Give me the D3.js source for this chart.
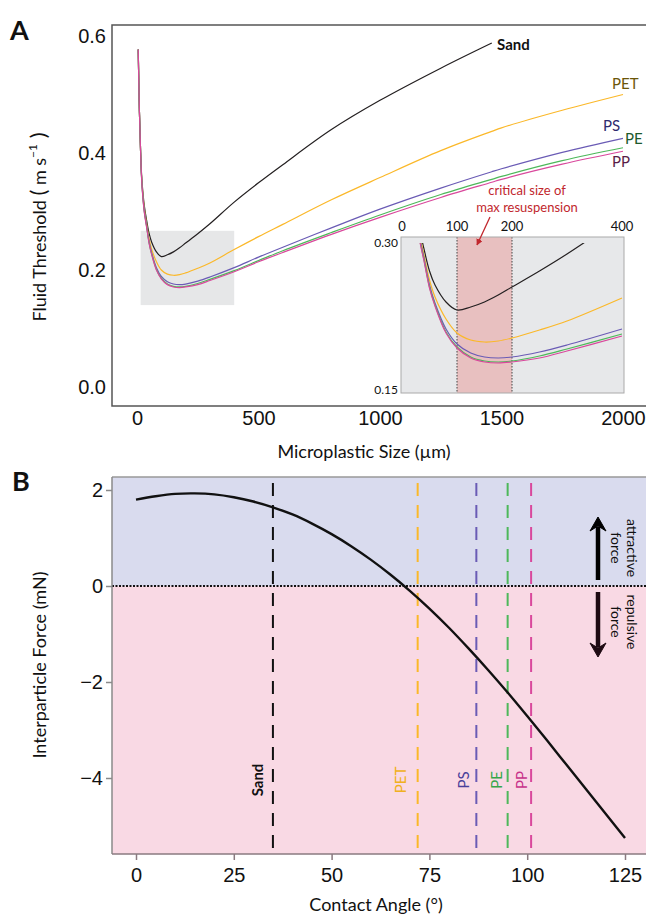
<!DOCTYPE html>
<html><head><meta charset="utf-8">
<script src="https://cdn.jsdelivr.net/npm/d3@7"></script>
<style>body{margin:0;background:#fff}svg{display:block;font-family:Lato,"Open Sans",sans-serif}</style>
</head><body>
<svg id="c" width="646" height="915"></svg>
<script>
// ---------- Panel A data ----------
const sizes = [5,10,15,20,30,40,50,60,80,100,125,150,175,200,250,300,400,500,600,800,1000,1250,1460,1500,1750,2000];
const sandA = [0.577,0.47,0.40,0.355,0.31,0.284,0.262,0.248,0.231,0.223,0.226,0.231,0.238,0.246,0.262,0.279,0.316,0.349,0.38,0.44,0.49,0.545,0.588,null,null,null];
const petA  = [0.577,0.47,0.40,0.352,0.305,0.278,0.253,0.236,0.214,0.200,0.193,0.191,0.192,0.195,0.203,0.212,0.235,0.257,0.278,0.320,0.358,0.404,0.437,0.443,0.473,0.50];
const psA   = [0.577,0.47,0.40,0.350,0.302,0.275,0.248,0.230,0.204,0.189,0.180,0.176,0.175,0.176,0.181,0.188,0.204,0.222,0.239,0.272,0.304,0.340,0.368,0.373,0.401,0.425];
const peA   = [0.577,0.47,0.40,0.349,0.300,0.273,0.246,0.228,0.201,0.186,0.176,0.172,0.171,0.172,0.177,0.184,0.199,0.216,0.233,0.264,0.294,0.329,0.355,0.360,0.387,0.409];
const ppA   = [0.577,0.47,0.40,0.348,0.299,0.272,0.245,0.227,0.200,0.185,0.175,0.171,0.170,0.171,0.175,0.182,0.197,0.214,0.230,0.261,0.290,0.324,0.350,0.355,0.381,0.403];
const seriesNames = ["Sand","PET","PS","PE","PP"];
const xTicksA = [0,500,1000,1500,2000];
const yTicksA = [0,0.2,0.4,0.6];
const zoomBoxSize = [15,400];
const zoomBoxValue = [0.14,0.267];
const insetXTicks = [0,100,200,400];
const insetYLabels = ["0.30","0.15"];
const criticalRange = [100,200];
const insetMaxValue = 0.29;

// ---------- Panel B data ----------
const angles = [0,5,10,15,20,25,30,35,40,45,50,55,60,65,70,75,80,85,90,95,100,105,110,115,120,125];
const force  = [1.80,1.87,1.92,1.93,1.91,1.85,1.76,1.64,1.49,1.30,1.08,0.83,0.55,0.24,-0.10,-0.47,-0.87,-1.30,-1.75,-2.22,-2.71,-3.21,-3.72,-4.23,-4.74,-5.25];
const materialAngles = [35,72,87,95,101];
const xTicksB = [0,25,50,75,100,125];
const yTicksB = [-4,-2,0,2];

const lineCol = {Sand:"#231f20",PET:"#fbb829",PS:"#6a5bb5",PE:"#4db85a",PP:"#d9489c"};
const labACol = {Sand:"#111",PET:"#6b5608",PS:"#2d2a6e",PE:"#1d5a2c",PP:"#5a1c48"};
const labBCol = {Sand:"#111",PET:"#f0b020",PS:"#4a3f9a",PE:"#35a648",PP:"#c8338a"};

const svg = d3.select("#c");
const seriesA = [sandA,petA,psA,peA,ppA];
const smooth = d3.curveCatmullRom.alpha(0.5);

// ===== Panel A =====
const xA = d3.scaleLinear().domain([0,2000]).range([137,623]);
const yA = d3.scaleLinear().domain([0,0.6]).range([387,36]);
const A = {l:112,r:646,t:25,b:406};

svg.append("rect").attr("x",xA(zoomBoxSize[0])).attr("y",yA(zoomBoxValue[1]))
  .attr("width",xA(zoomBoxSize[1])-xA(zoomBoxSize[0])).attr("height",yA(zoomBoxValue[0])-yA(zoomBoxValue[1]))
  .attr("fill","#e6e7e8");

const lineA = d3.line().defined(d=>d[1]!=null).x(d=>xA(d[0])).y(d=>yA(d[1])).curve(smooth);
seriesA.forEach((s,i)=>{
  svg.append("path").datum(sizes.map((x,j)=>[x,s[j]])).attr("d",lineA)
    .attr("fill","none").attr("stroke",lineCol[seriesNames[i]]).attr("stroke-width",1.2);
});

// frame
svg.append("path").attr("d",`M${A.r},${A.t}H${A.l}V${A.b}H${A.r}`).attr("fill","none").attr("stroke","#555").attr("stroke-width",1.5);

const axA = svg.append("g").attr("transform",`translate(${A.l},0)`)
  .call(d3.axisLeft(yA).tickValues(yTicksA).tickFormat(d3.format(".1f")).tickSize(0).tickPadding(6));
axA.select(".domain").remove();
axA.selectAll("text").attr("font-size",20).attr("fill","#111");
const axAx = svg.append("g").attr("transform",`translate(0,${A.b})`)
  .call(d3.axisBottom(xA).tickValues(xTicksA).tickFormat(d3.format("d")).tickSize(0).tickPadding(5));
axAx.select(".domain").remove();
axAx.selectAll("text").attr("font-size",20).attr("fill","#111");

svg.append("text").attr("x",364).attr("y",458).attr("text-anchor","middle").attr("font-size",18).attr("fill","#111").text("Microplastic Size (µm)");
const yt = svg.append("text").attr("transform","translate(46,227) rotate(-90)").attr("text-anchor","middle").attr("font-size",18).attr("fill","#111");
yt.append("tspan").text("Fluid Threshold ");
yt.append("tspan").attr("font-size",22).text("(");
yt.append("tspan").text(" m s");
yt.append("tspan").attr("font-size",12).attr("dy",-9).text("−1");
yt.append("tspan").attr("font-size",22).attr("dy",9).text(" )");

svg.append("text").attr("x",10).attr("y",40).attr("font-size",27).attr("font-weight","bold").attr("fill","#111").text("A");

// end labels
const labPos = {Sand:[497,50],PET:[612,89],PS:[603,131],PE:[625,144],PP:[612,167]};
seriesNames.forEach(n=>{
  svg.append("text").attr("x",labPos[n][0]).attr("y",labPos[n][1]).attr("font-size",15)
    .attr("font-weight",n==="Sand"?"bold":"normal").attr("fill",labACol[n]).text(n);
});

// ===== Inset =====
const xI = d3.scaleLinear().domain([0,400]).range([402,622]);
const yI = d3.scaleLinear().domain([0.14,0.296]).range([393,237]);
const I = {l:401,r:624,t:237,b:393};
svg.append("rect").attr("x",I.l).attr("y",I.t).attr("width",I.r-I.l).attr("height",I.b-I.t).attr("fill","#e7e8ea");
svg.append("rect").attr("x",xI(criticalRange[0])).attr("y",I.t).attr("width",xI(criticalRange[1])-xI(criticalRange[0])).attr("height",I.b-I.t).attr("fill","#e8c0c0");
criticalRange.forEach(v=>{
  svg.append("line").attr("x1",xI(v)).attr("x2",xI(v)).attr("y1",I.t).attr("y2",I.b)
    .attr("stroke","#444").attr("stroke-width",1).attr("stroke-dasharray","1.5,1.5");
});
svg.append("clipPath").attr("id","ic").append("rect").attr("x",I.l).attr("y",yI(insetMaxValue)).attr("width",I.r-I.l).attr("height",I.b-yI(insetMaxValue));
const lineI = d3.line().defined(d=>d[1]!=null).x(d=>xI(d[0])).y(d=>yI(d[1])).curve(smooth);
const gI = svg.append("g").attr("clip-path","url(#ic)");
seriesA.forEach((s,i)=>{
  const pts = sizes.map((x,j)=>[x,s[j]]).filter(d=>d[0]>=20 && d[0]<=400);
  gI.append("path").datum(pts).attr("d",lineI).attr("fill","none").attr("stroke",lineCol[seriesNames[i]]).attr("stroke-width",1.2);
});
svg.append("rect").attr("x",I.l).attr("y",I.t).attr("width",I.r-I.l).attr("height",I.b-I.t).attr("fill","none").attr("stroke","#aaa").attr("stroke-width",1);
insetXTicks.forEach(t=>{
  svg.append("text").attr("x",xI(t)).attr("y",231).attr("text-anchor","middle").attr("font-size",13).attr("fill","#111").text(t);
});
svg.append("text").attr("x",398).attr("y",I.t+10).attr("text-anchor","end").attr("font-size",12).attr("fill","#111").text(insetYLabels[0]);
svg.append("text").attr("x",398).attr("y",I.b+1).attr("text-anchor","end").attr("font-size",12).attr("fill","#111").text(insetYLabels[1]);
svg.append("text").attr("x",527).attr("y",195).attr("text-anchor","middle").attr("font-size",13).attr("fill","#c1272d").text("critical size of");
svg.append("text").attr("x",527).attr("y",212).attr("text-anchor","middle").attr("font-size",13).attr("fill","#c1272d").text("max resuspension");
svg.append("defs").append("marker").attr("id","ar").attr("viewBox","0 0 10 10").attr("refX",9).attr("refY",5)
  .attr("markerWidth",5).attr("markerHeight",5).attr("orient","auto")
  .append("path").attr("d","M0,0L10,5L0,10Z").attr("fill","#c1272d");
svg.append("line").attr("x1",490).attr("y1",217).attr("x2",477).attr("y2",245).attr("stroke","#c1272d").attr("stroke-width",1.3).attr("marker-end","url(#ar)");

// ===== Panel B =====
const xB = d3.scaleLinear().domain([0,125]).range([136,625]);
const yB = d3.scaleLinear().domain([0,2]).range([586,490]);
const B = {l:112,r:646,t:477,b:854};
svg.append("rect").attr("x",B.l).attr("y",B.t).attr("width",B.r-B.l).attr("height",yB(0)-B.t).attr("fill","#d9dbee");
svg.append("rect").attr("x",B.l).attr("y",yB(0)).attr("width",B.r-B.l).attr("height",B.b-yB(0)).attr("fill","#f9d9e4");
svg.append("line").attr("x1",B.l).attr("x2",B.r).attr("y1",B.t).attr("y2",B.t).attr("stroke","#999").attr("stroke-width",1.5);

seriesNames.forEach((n,i)=>{
  svg.append("line").attr("x1",xB(materialAngles[i])).attr("x2",xB(materialAngles[i])).attr("y1",483).attr("y2",851)
    .attr("stroke",n==="Sand"?"#111":lineCol[n]).attr("stroke-width",2).attr("stroke-dasharray","13,9");
});
svg.append("line").attr("x1",B.l).attr("x2",B.r).attr("y1",yB(0)).attr("y2",yB(0))
  .attr("stroke","#111").attr("stroke-width",2).attr("stroke-dasharray","2,1.5");

const lineB = d3.line().x((d,i)=>xB(angles[i])).y(d=>yB(d)).curve(smooth);
svg.append("path").datum(force).attr("d",lineB).attr("fill","none").attr("stroke","#111").attr("stroke-width",2.4);

// arrows
function vArrow(x,y1,y2,col){
  const dir = y2<y1?-1:1;
  svg.append("line").attr("x1",x).attr("x2",x).attr("y1",y1).attr("y2",y2-dir*10).attr("stroke",col).attr("stroke-width",4.5);
  svg.append("path").attr("d",`M${x},${y2}L${x-8},${y2-dir*14}L${x},${y2-dir*9}L${x+8},${y2-dir*14}Z`).attr("fill",col).attr("stroke",col).attr("stroke-width",1);
}
vArrow(598,580,517,"#000");
vArrow(598,592,657,"#1e0a12");
function vText(x,y,t){
  svg.append("text").attr("transform",`translate(${x},${y}) rotate(90)`).attr("text-anchor","middle").attr("font-size",14).attr("fill","#111").text(t);
}
vText(627,548,"attractive");
vText(611,548,"force");
vText(627,622,"repulsive");
vText(611,622,"force");

// material labels
const labBY = 780;
const labBX = {Sand:-15,PET:-17,PS:-12,PE:-11,PP:-9};
seriesNames.forEach((n,i)=>{
  svg.append("text").attr("transform",`translate(${xB(materialAngles[i])+labBX[n]+5},${labBY}) rotate(-90)`)
    .attr("text-anchor","middle").attr("font-size",15).attr("font-weight",n==="Sand"?"bold":"normal")
    .attr("fill",labBCol[n]).text(n);
});

// axes
const axBy = svg.append("g").attr("transform",`translate(${B.l},0)`)
  .call(d3.axisLeft(yB).tickValues(yTicksB).tickFormat(d3.format("d")).tickSize(6).tickPadding(3).tickSizeOuter(0));
axBy.select(".domain").attr("d",`M0,${B.t}V${B.b}`);
axBy.selectAll("line,.domain").attr("stroke","#8a8a8a").attr("stroke-width",1.5);
axBy.selectAll("text").attr("font-size",20).attr("fill","#111");
const axBx = svg.append("g").attr("transform",`translate(0,${B.b})`)
  .call(d3.axisBottom(xB).tickValues(xTicksB).tickFormat(d3.format("d")).tickSize(6).tickPadding(8).tickSizeOuter(0));
axBx.select(".domain").attr("d",`M${B.l},0H${B.r}`);
axBx.selectAll("line,.domain").attr("stroke","#8a7a80").attr("stroke-width",1.5);
axBx.selectAll("text").attr("font-size",20).attr("fill","#111");

svg.append("text").attr("x",376).attr("y",911).attr("text-anchor","middle").attr("font-size",18).attr("fill","#111").text("Contact Angle (°)");
svg.append("text").attr("transform","translate(46,665) rotate(-90)").attr("text-anchor","middle").attr("font-size",18).attr("fill","#111").text("Interparticle Force (mN)");
svg.append("text").attr("x",12).attr("y",491).attr("font-size",27).attr("font-weight","bold").attr("fill","#111").text("B");
</script>
</body></html>
